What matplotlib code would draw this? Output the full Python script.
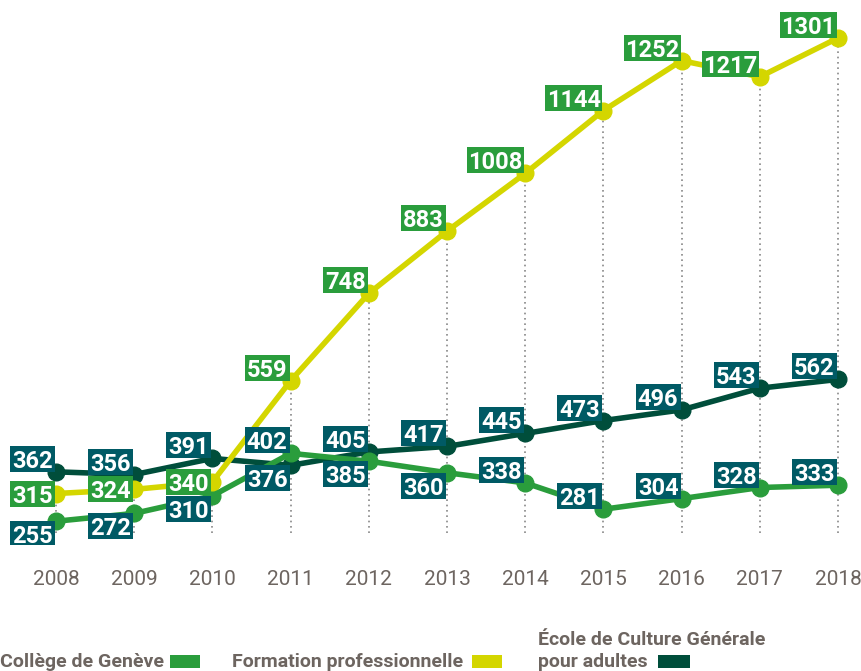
import matplotlib
matplotlib.use("Agg")
import matplotlib.pyplot as plt
from matplotlib.patches import Rectangle

years = [2008, 2009, 2010, 2011, 2012, 2013, 2014, 2015, 2016, 2017, 2018]
college = [255, 272, 310, 402, 385, 360, 338, 281, 304, 328, 333]
formation = [315, 324, 340, 559, 748, 883, 1008, 1144, 1252, 1217, 1301]
ecg = [362, 356, 391, 376, 405, 417, 445, 473, 496, 543, 562]

# label placement: u = upper-left, d = lower-left, m = left-middle
pos_college = ['d', 'd', 'd', 'u', 'd', 'd', 'u', 'u', 'u', 'u', 'u']
pos_formation = ['m', 'm', 'm', 'u', 'u', 'u', 'u', 'u', 'u', 'u', 'u']
pos_ecg = ['u', 'u', 'u', 'd', 'u', 'u', 'u', 'u', 'u', 'u', 'u']

C_YELLOW = '#d4d600'
C_GREEN = '#2a9d3c'
C_DARK = '#004e3b'
C_TEAL = '#005a65'
C_GRAY = '#6d6560'

FONT = ['Roboto', 'DejaVu Sans']
plt.rcParams['font.family'] = FONT

W, H = 861, 671
fig = plt.figure(figsize=(W / 100, H / 100), dpi=100)
ax_h = 545
ax = fig.add_axes([0, 1 - ax_h / H, 1, ax_h / H])

# pixel mapping estimated from reference
x0px, sx = 56, 78.2
ypx_ref, yref, sy = 38, 1301, 0.462
ax.set_xlim(2008 - x0px / sx, 2018 + (W - (x0px + 10 * sx)) / sx)
ax.set_ylim(yref - (ax_h - ypx_ref) / sy, yref + ypx_ref / sy)
for s in ax.spines.values():
    s.set_visible(False)
ax.set_yticks([])
ax.set_xticks(years)
ax.set_xticklabels([str(y) for y in years], fontsize=15, color=C_GRAY)
ax.tick_params(axis='x', length=0, pad=18)

bottom_val = yref - (533 - ypx_ref) / sy
ax.vlines(years, bottom_val, formation, colors='#888888', linestyles=(0, (1, 2.2)), lw=1.2, zorder=1)

lw, ms = 4.0, 12
ax.plot(years, ecg, color=C_DARK, lw=lw, marker='o', ms=ms, zorder=3)
ax.plot(years, college, color=C_GREEN, lw=lw, marker='o', ms=ms, zorder=3)
ax.plot(years, formation, color=C_YELLOW, lw=lw, marker='o', ms=ms, zorder=3)

# data units per pixel
dx = 1 / sx
dy = 1 / sy
box_h = 26


def label(x, v, pos, fc):
    txt = str(v)
    w = 12 * len(txt) + 9
    right = x - 1 * dx
    if pos == 'u':
        yb = v
    elif pos == 'd':
        yb = v - box_h * dy
    else:
        yb = v - box_h / 2 * dy
    ax.add_patch(Rectangle((right - w * dx, yb), w * dx, box_h * dy, facecolor=fc,
                           edgecolor='none', zorder=5))
    ax.text(right - w / 2 * dx, yb + box_h / 2 * dy, txt, ha='center', va='center_baseline',
            color='white', fontsize=17, fontweight='bold', zorder=6)


for y, v, p in zip(years, college, pos_college):
    label(y, v, p, C_TEAL)
for y, v, p in zip(years, ecg, pos_ecg):
    label(y, v, p, C_TEAL)
for y, v, p in zip(years, formation, pos_formation):
    label(y, v, p, C_GREEN)

# legend
def fx(px):
    return px / W


def fy(py):
    return 1 - py / H


leg_fs = 14
fig.text(fx(0), fy(667), 'Collège de Genève', fontsize=leg_fs, fontweight='bold', color=C_GRAY, ha='left', va='baseline')
fig.patches.append(Rectangle((fx(170), fy(668)), fx(30), 13 / H, transform=fig.transFigure, facecolor=C_GREEN, figure=fig))
fig.text(fx(232), fy(667), 'Formation professionnelle', fontsize=leg_fs, fontweight='bold', color=C_GRAY, ha='left', va='baseline')
fig.patches.append(Rectangle((fx(472), fy(668)), fx(30), 13 / H, transform=fig.transFigure, facecolor=C_YELLOW, figure=fig))
fig.text(fx(538), fy(645), 'École de Culture Générale', fontsize=leg_fs, fontweight='bold', color=C_GRAY, ha='left', va='baseline')
fig.text(fx(538), fy(667), 'pour adultes', fontsize=leg_fs, fontweight='bold', color=C_GRAY, ha='left', va='baseline')
fig.patches.append(Rectangle((fx(658), fy(668)), fx(32), 13 / H, transform=fig.transFigure, facecolor=C_DARK, figure=fig))

fig.savefig('out.png', dpi=100)
